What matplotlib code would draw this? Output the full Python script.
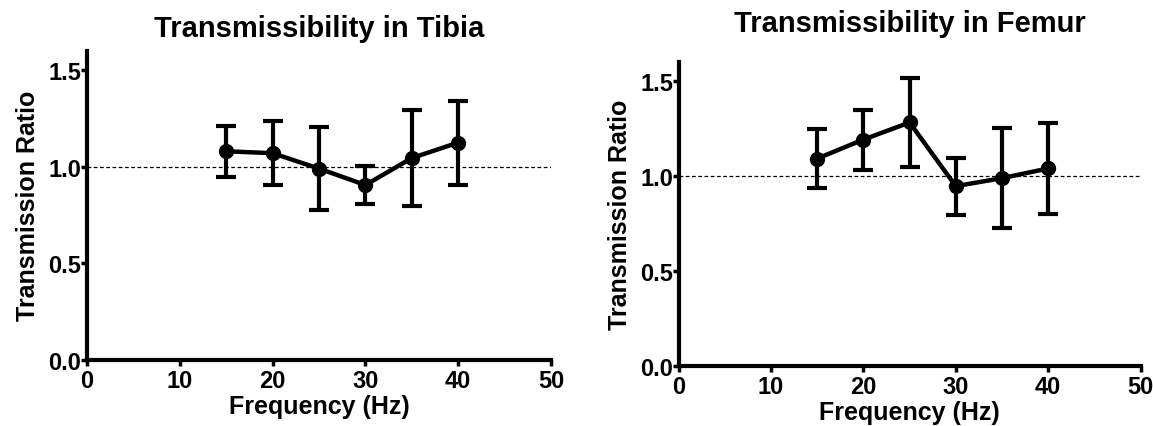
import numpy as np
import matplotlib
matplotlib.use('Agg')
import matplotlib.pyplot as plt

plt.rcParams['font.family'] = ['Liberation Sans', 'DejaVu Sans']
plt.rcParams['font.weight'] = 'bold'

freq = [15, 20, 25, 30, 35, 40]

tibia_mean = [1.08, 1.07, 0.99, 0.905, 1.045, 1.125]
tibia_sd = [0.133, 0.166, 0.214, 0.10, 0.248, 0.218]

femur_mean = [1.09, 1.19, 1.28, 0.945, 0.987, 1.038]
femur_sd = [0.155, 0.158, 0.233, 0.150, 0.262, 0.241]

x_ticks = [0, 10, 20, 30, 40, 50]
y_ticks = [0.0, 0.5, 1.0, 1.5]


def draw_panel(ax, mean, sd, title, title_pad):
    ax.axhline(1.0, color='black', lw=0.9, dashes=(3, 2), zorder=1)
    ax.errorbar(freq, mean, yerr=sd, color='black', lw=3.2, marker='o',
                markersize=10, elinewidth=3, capsize=7.5, capthick=3, zorder=3)
    ax.set_xlim(0, 50)
    ax.set_ylim(0, 1.6)
    ax.set_xticks(x_ticks)
    ax.set_yticks(y_ticks)
    ax.set_yticklabels(['%.1f' % v for v in y_ticks])
    for side in ['top', 'right']:
        ax.spines[side].set_visible(False)
    for side in ['left', 'bottom']:
        ax.spines[side].set_linewidth(3)
    ax.tick_params(width=2.5, length=4, labelsize=17)
    ax.tick_params(axis='x', pad=3)
    ax.tick_params(axis='y', pad=0)
    for lab in ax.get_xticklabels() + ax.get_yticklabels():
        lab.set_fontweight('bold')
    ax.set_xlabel('Frequency (Hz)', fontsize=18, fontweight='bold', labelpad=1)
    ax.set_ylabel('Transmission Ratio', fontsize=18, fontweight='bold', labelpad=6)
    ax.set_title(title, fontsize=21, fontweight='bold', pad=title_pad)


fig = plt.figure(figsize=(11.53, 4.27), dpi=100)

ax1 = fig.add_axes([0.0755, 0.1557, 0.4024, 0.7225])
draw_panel(ax1, tibia_mean, tibia_sd, 'Transmissibility in Tibia', 11)

ax2 = fig.add_axes([0.5885, 0.1412, 0.4007, 0.712])
draw_panel(ax2, femur_mean, femur_sd, 'Transmissibility in Femur', 22)

fig.savefig('out.png', dpi=100)
